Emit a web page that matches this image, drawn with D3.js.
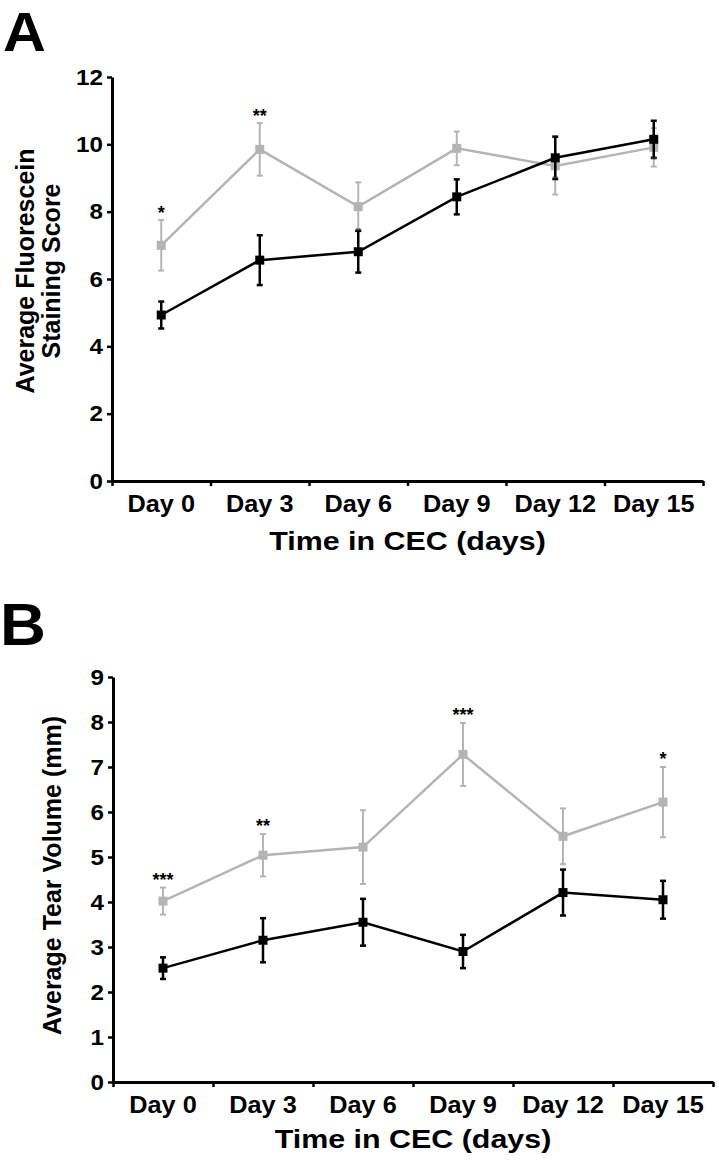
<!DOCTYPE html>
<html>
<head>
<meta charset="utf-8">
<script src="https://cdn.jsdelivr.net/npm/d3@7"></script>
<style>
  html, body { margin: 0; padding: 0; background: #fff; }
  svg { display: block; }
  text { font-family: "Liberation Sans", Arial, sans-serif; font-weight: bold; fill: #000; }
</style>
</head>
<body>
<script>
// ---------- data ----------
const categories = ["Day 0", "Day 3", "Day 6", "Day 9", "Day 12", "Day 15"];

// Panel A: Average Fluorescein Staining Score
const yTicksA = [0, 2, 4, 6, 8, 10, 12];
const grayA = [7.0, 9.85, 8.15, 9.88, 9.36, 9.91];
const grayErrA = [0.75, 0.78, 0.72, 0.5, 0.85, 0.57];
const blackA = [4.93, 6.56, 6.81, 8.44, 9.6, 10.15];
const blackErrA = [0.4, 0.74, 0.62, 0.52, 0.63, 0.55];
const starsA = ["*", "**", "", "", "", ""];
const tinyMarksA = ["", "", "**", "", "**", "**"];
const tinyMarkValA = [null, null, 7.45, null, 9.0, 9.56];

// Panel B: Average Tear Volume (mm)
const yTicksB = [0, 1, 2, 3, 4, 5, 6, 7, 8, 9];
const grayB = [4.02, 5.04, 5.22, 7.28, 5.46, 6.22];
const grayErrB = [0.3, 0.47, 0.82, 0.7, 0.62, 0.78];
const blackB = [2.53, 3.15, 3.55, 2.9, 4.21, 4.05];
const blackErrB = [0.24, 0.49, 0.52, 0.37, 0.51, 0.42];
const starsB = ["***", "**", "", "***", "", "*"];

const xTitle = "Time in CEC (days)";

// ---------- drawing ----------
const W = 719, H = 1166;
const GRAY = "#b4b4b4";
const svg = d3.select("body").append("svg").attr("width", W).attr("height", H);
svg.append("rect").attr("width", W).attr("height", H).attr("fill", "#fff");

function stretch(sel, f) {
  sel.each(function () {
    const L = this.getComputedTextLength();
    this.setAttribute("textLength", L * f);
    this.setAttribute("lengthAdjust", "spacingAndGlyphs");
  });
}

function panel(cfg) {
  const g = svg.append("g");
  const x = d3.scaleBand().domain(categories).range([cfg.x0, cfg.x1]).padding(0);
  const xLin = d3.scaleLinear().domain([0, categories.length]).range([cfg.x0, cfg.x1]);
  const y = d3.scaleLinear().domain([0, cfg.yMax]).range([cfg.yBot, cfg.yTop]);
  const cx = c => x(c) + x.bandwidth() / 2;

  // panel letter
  const lt = g.append("text").attr("x", cfg.letterX).attr("y", cfg.letterY)
    .style("font-size", cfg.letterSize + "px").text(cfg.letter);
  stretch(lt, 1.06);

  // y axis
  const ya = g.append("g").attr("transform", `translate(${cfg.x0},0)`)
    .call(d3.axisLeft(y).tickValues(cfg.ticks).tickFormat(d3.format("d"))
      .tickSize(5).tickSizeOuter(0).tickPadding(4));
  ya.select(".domain").attr("stroke", "#000").attr("stroke-width", 3);
  ya.selectAll(".tick line").attr("stroke", "#000").attr("stroke-width", 2.5);
  ya.selectAll(".tick text").attr("font-family", null).attr("font-size", null)
    .style("font-size", "22px");
  stretch(ya.selectAll(".tick text"), 1.1);

  // x axis: boundary ticks
  const xa = g.append("g").attr("transform", `translate(0,${cfg.yBot})`)
    .call(d3.axisBottom(xLin).tickValues(d3.range(categories.length + 1))
      .tickFormat("").tickSize(5).tickSizeOuter(0));
  xa.select(".domain").attr("stroke", "#000").attr("stroke-width", 3);
  xa.selectAll(".tick line").attr("stroke", "#000").attr("stroke-width", 2.5);

  // x axis: category labels
  const xl = g.append("g").attr("transform", `translate(0,${cfg.yBot})`)
    .call(d3.axisBottom(x).tickSize(0).tickPadding(15));
  xl.select(".domain").remove();
  xl.selectAll(".tick text").attr("font-family", null).attr("font-size", null)
    .style("font-size", "23px");
  stretch(xl.selectAll(".tick text"), 1.1);

  // x title
  const xt = g.append("text").attr("x", (cfg.x0 + cfg.x1) / 2).attr("y", cfg.xTitleY)
    .attr("text-anchor", "middle").style("font-size", "26px").text(xTitle);
  stretch(xt, 1.17);

  // y title (rotated)
  const cy = (cfg.yTop + cfg.yBot) / 2 + cfg.yTitleShift;
  cfg.yTitle.forEach((line, i) => {
    g.append("text")
      .attr("transform", `translate(${cfg.yTitleX[i]},${cy}) rotate(-90)`)
      .attr("text-anchor", "middle").style("font-size", "25px").text(line);
  });

  const line = d3.line().x((d, i) => cx(categories[i])).y(d => y(d));

  function series(vals, errs, color, lw, ew) {
    const s = g.append("g");
    s.append("path").datum(vals).attr("d", line).attr("fill", "none")
      .attr("stroke", color).attr("stroke-width", lw).attr("stroke-linejoin", "miter");
    vals.forEach((v, i) => {
      const px = cx(categories[i]);
      const t = y(v + errs[i]), b = y(v - errs[i]);
      s.append("line").attr("x1", px).attr("x2", px).attr("y1", t).attr("y2", b)
        .attr("stroke", color).attr("stroke-width", ew);
      [t, b].forEach(yy => s.append("line").attr("x1", px - 3).attr("x2", px + 3)
        .attr("y1", yy).attr("y2", yy).attr("stroke", color).attr("stroke-width", ew));
      s.append("rect").attr("x", px - 4.5).attr("y", y(v) - 4.5)
        .attr("width", 9).attr("height", 9).attr("fill", color);
    });
  }
  series(cfg.gray, cfg.grayErr, GRAY, 2.5, 2);
  series(cfg.black, cfg.blackErr, "#000", 2.5, 2.5);

  // significance stars
  cfg.stars.forEach((s, i) => {
    if (!s) return;
    const top = y(cfg.gray[i] + cfg.grayErr[i]);
    g.append("text").attr("x", cx(categories[i])).attr("y", top - 12 + 0.58 * 18)
      .attr("text-anchor", "middle").style("font-size", "18px")
      .text(s);
  });
  if (cfg.tiny) {
    cfg.tiny.forEach((s, i) => {
      if (!s) return;
      g.append("text").attr("x", cx(categories[i])).attr("y", y(cfg.tinyVal[i]) + 3)
        .attr("text-anchor", "middle").style("font-size", "7px").style("fill", "#444")
        .text(s);
    });
  }
}

panel({
  letter: "A", letterX: 3, letterY: 51, letterSize: 56,
  x0: 112, x1: 703, yTop: 77, yBot: 481, yMax: 12, ticks: yTicksA,
  gray: grayA, grayErr: grayErrA, black: blackA, blackErr: blackErrA,
  stars: starsA, tiny: tinyMarksA, tinyVal: tinyMarkValA,
  yTitle: ["Average Fluorescein", "Staining Score"], yTitleX: [34, 60], yTitleShift: -8,
  xTitleY: 550
});

panel({
  letter: "B", letterX: 0, letterY: 645, letterSize: 60,
  x0: 113, x1: 713, yTop: 677, yBot: 1082, yMax: 9, ticks: yTicksB,
  gray: grayB, grayErr: grayErrB, black: blackB, blackErr: blackErrB,
  stars: starsB,
  yTitle: ["Average Tear Volume (mm)"], yTitleX: [61], yTitleShift: -4,
  xTitleY: 1148
});
</script>
</body>
</html>
